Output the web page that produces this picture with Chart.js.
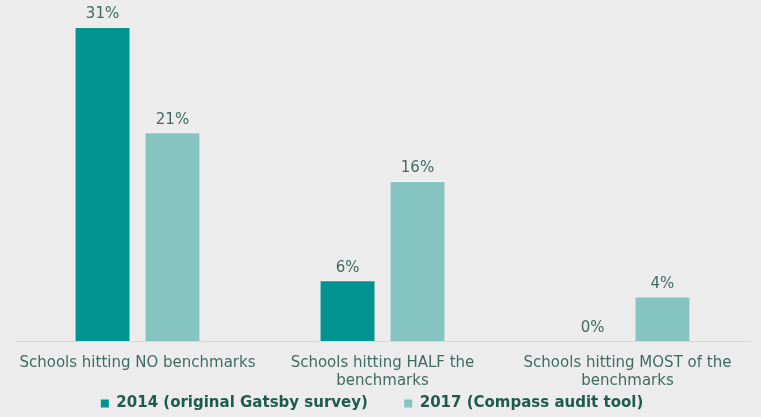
<!DOCTYPE html>
<html>
<head>
<meta charset="utf-8">
<script src="https://cdn.jsdelivr.net/npm/chart.js@4.4.1/dist/chart.umd.min.js"></script>
<style>
  html, body { margin: 0; padding: 0; background: #ececec; }
  #wrap { width: 761px; height: 417px; }
</style>
</head>
<body>
<div id="wrap"><canvas id="gatsby-chart"></canvas></div>
<script>
const categories = [
    'Schools hitting NO benchmarks',
    ['Schools hitting HALF the', 'benchmarks'],
    ['Schools hitting MOST of the', 'benchmarks']
];
// bar heights as measured; labels show the rounded percent
const values2014 = [31, 6, 0];
const values2017 = [20.6, 15.8, 4.4];
const seriesNames = ['2014 (original Gatsby survey)', '2017 (Compass audit tool)'];

const textColor = '#3f6b60';
const fontFamily = '"DejaVu Sans", Verdana, sans-serif';

// draw the % value above each bar
const valueLabels = {
    id: 'valueLabels',
    afterDatasetsDraw(chart) {
        const ctx = chart.ctx;
        ctx.save();
        ctx.font = '15px ' + fontFamily;
        ctx.fillStyle = textColor;
        ctx.textAlign = 'center';
        ctx.textBaseline = 'bottom';
        chart.data.datasets.forEach((ds, i) => {
            chart.getDatasetMeta(i).data.forEach((bar, j) => {
                ctx.fillText(Math.round(ds.data[j]) + '%', bar.x, bar.y - 5);
            });
        });
        ctx.restore();
    }
};

const ctx = document.getElementById('gatsby-chart').getContext('2d');
const chart = new Chart(ctx, {
    type: 'bar',
    data: {
        labels: categories,
        datasets: [{
            label: seriesNames[0],
            data: values2014,
            backgroundColor: '#009390',
            borderColor: 'rgba(255,255,255,0.35)',
            borderWidth: 1,
        }, {
            label: seriesNames[1],
            data: values2017,
            backgroundColor: '#86c4c2',
            borderColor: 'rgba(255,255,255,0.35)',
            borderWidth: 1,
        }]
    },
    options: {
        responsive: true,
        maintainAspectRatio: false,
        animation: false,
        layout: {
            padding: { left: 15, right: 11, top: 27, bottom: -4 }
        },
        datasets: {
            bar: {
                categoryPercentage: 0.571,
                barPercentage: 0.8,
            }
        },
        scales: {
            x: {
                grid: { display: false, drawTicks: false },
                border: { display: true, color: '#d6d6d6', width: 1 },
                ticks: {
                    color: textColor,
                    padding: 13,
                    maxRotation: 0,
                    font: { family: fontFamily, size: 15 }
                },
                afterFit(scale) {
                    scale.height = 50;
                }
            },
            y: {
                display: false,
                min: 0,
                max: 31,
            }
        },
        plugins: {
            tooltip: { enabled: false },
            legend: {
                position: 'bottom',
                labels: {
                    color: '#1f5a4e',
                    boxWidth: 8,
                    boxHeight: 8,
                    padding: 5,
                    font: { family: fontFamily, size: 15, weight: 'bold' },
                    // trailing spaces widen the gap between entries and pull the row left
                    generateLabels(chart) {
                        const items = Chart.defaults.plugins.legend.labels.generateLabels(chart);
                        items.forEach((it, i) => {
                            it.lineWidth = 0;
                            it.text = it.text + (i === 0 ? '      ' : '    ');
                        });
                        return items;
                    }
                }
            }
        }
    },
    plugins: [valueLabels]
});
</script>
</body>
</html>
